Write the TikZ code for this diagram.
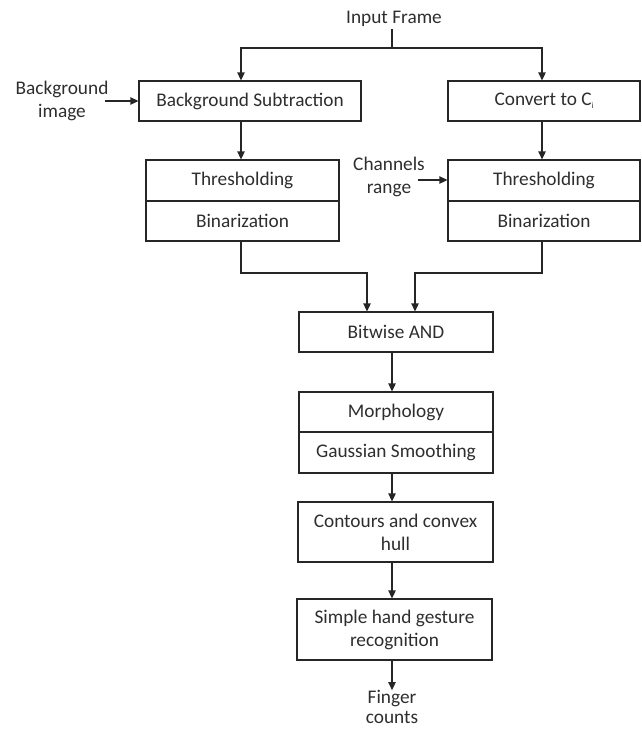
\documentclass[tikz,border=0pt]{standalone}
\usepackage{fontspec}
\setmainfont{Carlito}
\usetikzlibrary{arrows.meta}
\definecolor{txt}{HTML}{2E2E2E}
\definecolor{lnc}{HTML}{262626}
\begin{document}
\begin{tikzpicture}[x=1pt,y=-1pt,
  every node/.style={font=\fontsize{19.3}{23}\selectfont, text=txt},
  box/.style={draw=lnc, line width=1.3pt, inner sep=0pt, align=center},
  lbl/.style={align=center, inner sep=0pt},
  conn/.style={draw=lnc, line width=1.3pt},
  arr/.style={conn, -{Triangle[length=8pt,width=7.5pt]}}]
\useasboundingbox (0,0) rectangle (641,731);
% labels
\node[lbl] (inp) at (394,19) {Input Frame};
\node[lbl] (bgi) at (62,101) {Background\\image};
\node[lbl] (chr) at (389,177) {Channels\\range};
\node[lbl, font=\fontsize{19.3}{20}\selectfont] (fin) at (392,707) {Finger\\counts};
% boxes
\node[box, minimum width=222pt, minimum height=40pt] (bs) at (250,101) {Background Subtraction};
\node[box, minimum width=192pt, minimum height=40pt] (cv) at (544,101) {Convert to C\raisebox{-3pt}{\fontsize{8}{8}\selectfont i}};
\node[box, minimum width=193pt, minimum height=41pt] (thL) at (242.5,180.5) {Thresholding};
\node[box, minimum width=193pt, minimum height=40pt] (biL) at (242.5,221) {Binarization};
\node[box, minimum width=192pt, minimum height=41pt] (thR) at (544,180.5) {Thresholding};
\node[box, minimum width=192pt, minimum height=40pt] (biR) at (544,221) {Binarization};
\node[box, minimum width=194pt, minimum height=40pt] (and) at (396,332) {Bitwise AND};
\node[box, minimum width=194pt, minimum height=40pt] (mor) at (396,412) {Morphology};
\node[box, minimum width=194pt, minimum height=41pt] (gau) at (396,452.5) {Gaussian Smoothing};
\node[box, minimum width=195pt, minimum height=60pt] (con) at (395.5,532) {Contours and convex\\hull};
\node[box, minimum width=195pt, minimum height=61pt] (sim) at (394.5,629.5) {Simple hand gesture\\recognition};
% helper coordinates
\coordinate (j0) at (392,29);
\coordinate (j1) at (392,48);
\coordinate (xl) at (241,0);
\coordinate (xr) at (542,0);
\coordinate (bgs) at (105,0);
\coordinate (chs) at (418,180);
\coordinate (ml) at (367,273);
\coordinate (mr) at (415,273);
\coordinate (xc) at (392,0);
% connectors
\draw[conn] (j0) -- (j1);
\draw[arr] (j1) -| (xl |- bs.north);
\draw[arr] (j1) -| (xr |- cv.north);
\draw[arr] (bgs |- bs.west) -- (bs.west);
\draw[arr] (xl |- bs.south) -- (xl |- thL.north);
\draw[arr] (xr |- cv.south) -- (xr |- thR.north);
\draw[arr] (chs) -- (chs -| thR.west);
\draw[arr] (xl |- biL.south) |- (ml) -- (ml |- and.north);
\draw[arr] (xr |- biR.south) |- (mr) -- (mr |- and.north);
\draw[arr] (xc |- and.south) -- (xc |- mor.north);
\draw[arr] (xc |- gau.south) -- (xc |- con.north);
\draw[arr] (xc |- con.south) -- (xc |- sim.north);
\draw[arr] (xc |- sim.south) -- (fin.north);
\end{tikzpicture}
\end{document}
